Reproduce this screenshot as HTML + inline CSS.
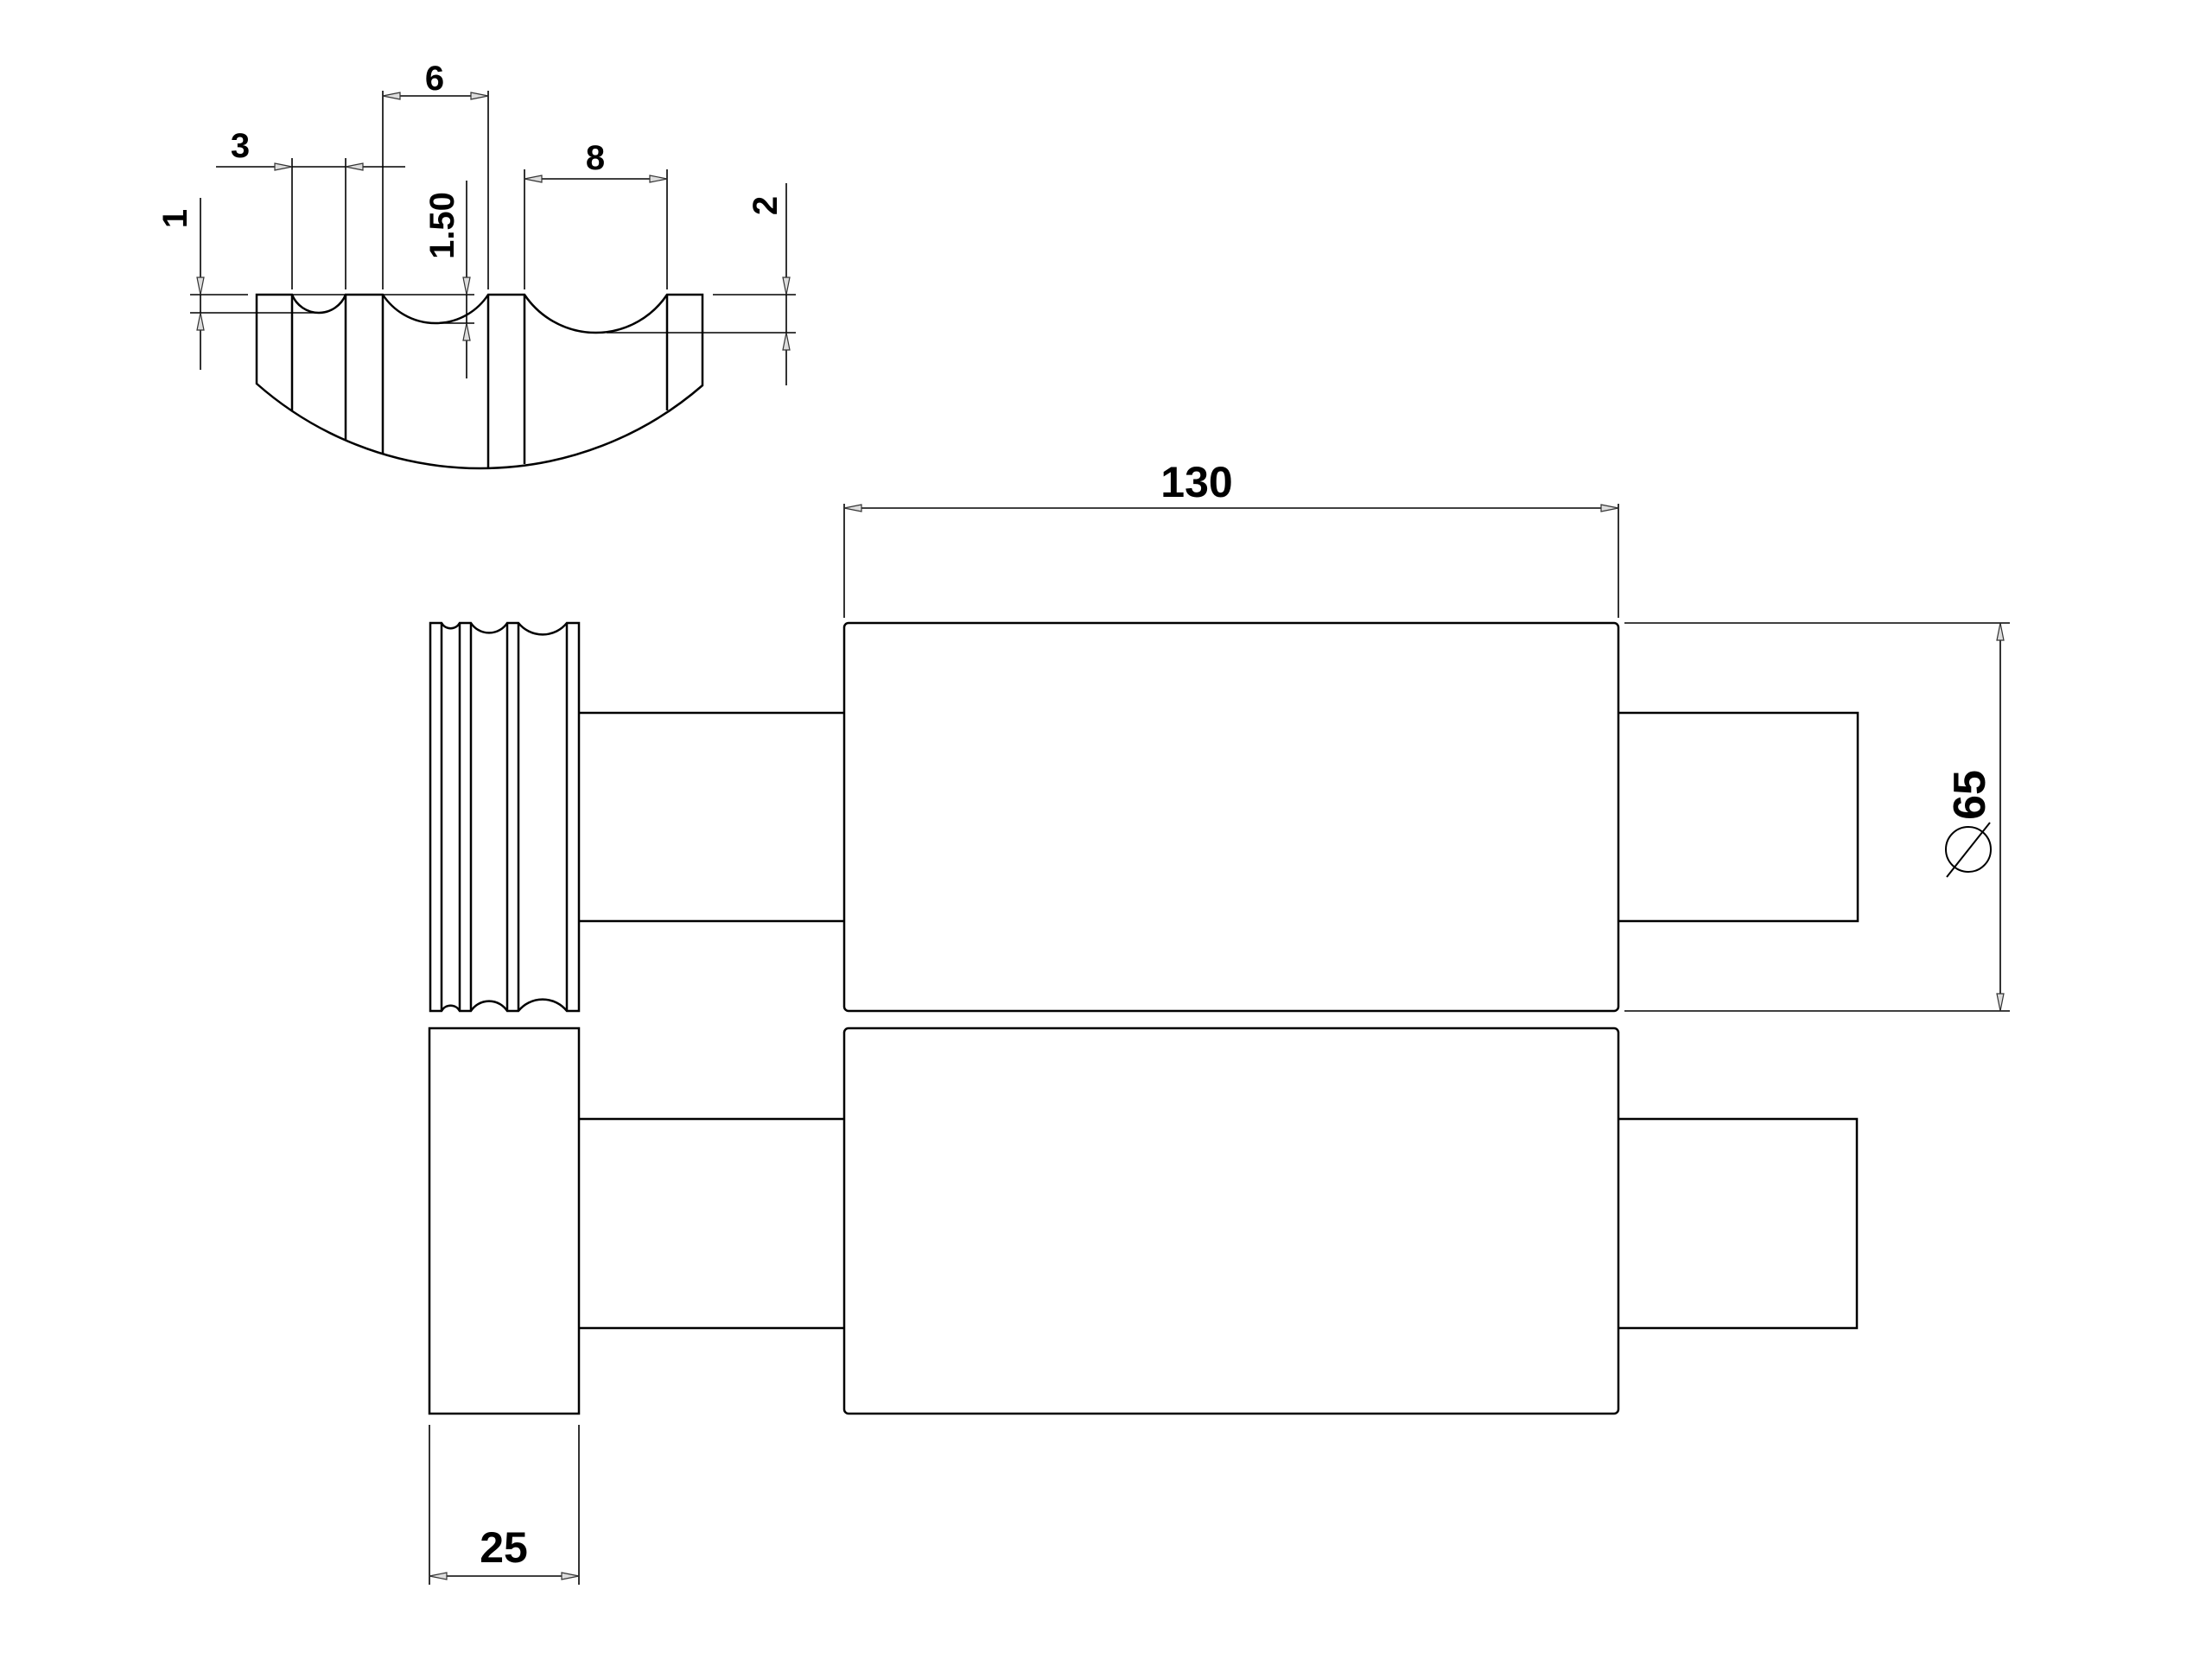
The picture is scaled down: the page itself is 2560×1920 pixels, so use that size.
<!DOCTYPE html>
<html><head><meta charset="utf-8"><style>
html,body{margin:0;padding:0;background:#fff;}
svg{display:block;}
text{font-family:"Liberation Sans",sans-serif;font-weight:bold;fill:#000;}
</style></head><body>
<svg width="2560" height="1920" viewBox="0 0 2560 1920" xmlns="http://www.w3.org/2000/svg">
<g fill="none" stroke="#000" stroke-width="2.5">
<!-- top detail view -->
<path d="M297,341 L338,341 A33.4,33.4 0 0 0 400,341 L443,341 A72.9,72.9 0 0 0 565,341 L607,341 A99.3,99.3 0 0 0 772,341 L813,341 L813,446 A391.6,391.6 0 0 1 297,444 Z"/>
<line x1="338" y1="341" x2="338" y2="475"/>
<line x1="400" y1="341" x2="400" y2="509"/>
<line x1="443" y1="341" x2="443" y2="525"/>
<line x1="565" y1="341" x2="565" y2="541"/>
<line x1="607" y1="341" x2="607" y2="537"/>
<line x1="772" y1="341" x2="772" y2="475"/>
<!-- side roller -->
<path d="M498,721 L511,721 A12,12 0 0 0 532,721 L545,721 A25,25 0 0 0 587,721 L600,721 A36,36 0 0 0 656,721 L670,721 L670,1170 L656,1170 A36,36 0 0 0 600,1170 L587,1170 A25,25 0 0 0 545,1170 L532,1170 A12,12 0 0 0 511,1170 L498,1170 Z"/>
<line x1="511" y1="721" x2="511" y2="1170"/>
<line x1="532" y1="721" x2="532" y2="1170"/>
<line x1="545" y1="721" x2="545" y2="1170"/>
<line x1="587" y1="721" x2="587" y2="1170"/>
<line x1="600" y1="721" x2="600" y2="1170"/>
<line x1="656" y1="721" x2="656" y2="1170"/>
<!-- upper shaft -->
<line x1="670" y1="825" x2="977" y2="825"/>
<line x1="670" y1="1066" x2="977" y2="1066"/>
<rect x="977" y="721" width="896" height="449" rx="5"/>
<polyline points="1873,825 2150,825 2150,1066 1873,1066"/>
<!-- lower -->
<rect x="497" y="1190" width="173" height="446"/>
<line x1="670" y1="1295" x2="977" y2="1295"/>
<line x1="670" y1="1537" x2="977" y2="1537"/>
<rect x="977" y="1190" width="896" height="446" rx="5"/>
<polyline points="1873,1295 2149,1295 2149,1537 1873,1537"/>
</g>
<g fill="none" stroke="#000" stroke-width="1.6">
<!-- 130 -->
<line x1="977" y1="583" x2="977" y2="715"/>
<line x1="1873" y1="583" x2="1873" y2="715"/>
<line x1="977" y1="588" x2="1873" y2="588"/>
<!-- 65 -->
<line x1="1880" y1="721" x2="2326" y2="721"/>
<line x1="1880" y1="1170" x2="2326" y2="1170"/>
<line x1="2315" y1="721" x2="2315" y2="1170"/>
<!-- 25 -->
<line x1="497" y1="1649" x2="497" y2="1834"/>
<line x1="670" y1="1649" x2="670" y2="1834"/>
<line x1="497" y1="1824" x2="670" y2="1824"/>
<!-- 1 -->
<line x1="220" y1="341" x2="287" y2="341"/>
<line x1="220" y1="362" x2="369" y2="362"/>
<line x1="232" y1="229" x2="232" y2="428"/>
<!-- 3 -->
<line x1="338" y1="183" x2="338" y2="335"/>
<line x1="400" y1="183" x2="400" y2="335"/>
<line x1="250" y1="193" x2="469" y2="193"/>
<!-- 6 -->
<line x1="443" y1="105" x2="443" y2="335"/>
<line x1="565" y1="105" x2="565" y2="335"/>
<line x1="443" y1="111" x2="565" y2="111"/>
<!-- 1.50 -->
<line x1="540" y1="209" x2="540" y2="438"/>
<line x1="506" y1="374" x2="549" y2="374"/>
<line x1="316" y1="341" x2="549" y2="341" stroke-dasharray="0"/>
<!-- 8 -->
<line x1="607" y1="196" x2="607" y2="335"/>
<line x1="772" y1="196" x2="772" y2="335"/>
<line x1="607" y1="207" x2="772" y2="207"/>
<!-- 2 -->
<line x1="825" y1="341" x2="921" y2="341"/>
<line x1="702" y1="385" x2="921" y2="385"/>
<line x1="910" y1="212" x2="910" y2="446"/>
</g>
<g fill="#ddd" stroke="#333" stroke-width="1.2">
<polygon points="977,588 997,584 997,592"/>
<polygon points="1873,588 1853,584 1853,592"/>
<polygon points="2315,721 2311,741 2319,741"/>
<polygon points="2315,1170 2311,1150 2319,1150"/>
<polygon points="497,1824 517,1820 517,1828"/>
<polygon points="670,1824 650,1820 650,1828"/>
<polygon points="232,341 228,321 236,321"/>
<polygon points="232,362 228,382 236,382"/>
<polygon points="338,193 318,189 318,197"/>
<polygon points="400,193 420,189 420,197"/>
<polygon points="443,111 463,107 463,115"/>
<polygon points="565,111 545,107 545,115"/>
<polygon points="540,341 536,321 544,321"/>
<polygon points="540,374 536,394 544,394"/>
<polygon points="607,207 627,203 627,211"/>
<polygon points="772,207 752,203 752,211"/>
<polygon points="910,341 906,321 914,321"/>
<polygon points="910,385 906,405 914,405"/>
</g>
<!-- phi symbol -->
<g fill="none" stroke="#000" stroke-width="2">
<circle cx="2278" cy="983" r="26"/>
<line x1="2253" y1="1015" x2="2303" y2="952"/>
</g>
<text x="1385" y="575" font-size="50" text-anchor="middle">130</text>
<text x="583" y="1808" font-size="50" text-anchor="middle">25</text>
<text x="503" y="104" font-size="40" text-anchor="middle">6</text>
<text x="278" y="182" font-size="40" text-anchor="middle">3</text>
<text x="689" y="196" font-size="40" text-anchor="middle">8</text>
<text transform="translate(216,253) rotate(-90)" font-size="40" text-anchor="middle">1</text>
<text transform="translate(525,261) rotate(-90)" font-size="40" text-anchor="middle">1.50</text>
<text transform="translate(899,238) rotate(-90)" font-size="40" text-anchor="middle">2</text>
<text transform="translate(2297,920) rotate(-90)" font-size="52" text-anchor="middle">65</text>
</svg>
</body></html>
